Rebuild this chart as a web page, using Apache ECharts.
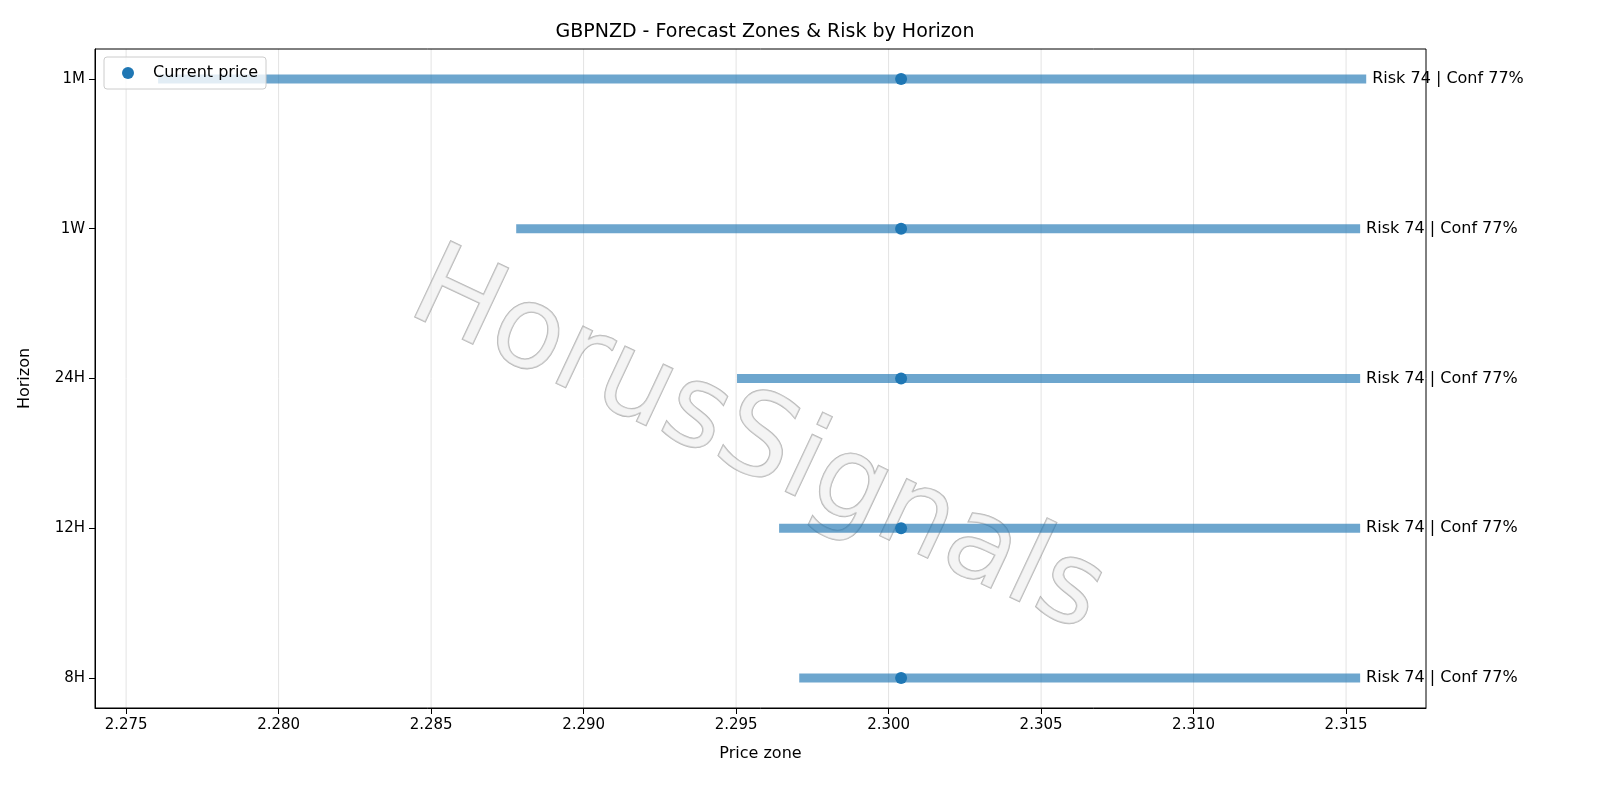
<!DOCTYPE html>
<html>
<head>
<meta charset="utf-8">
<script src="https://cdn.jsdelivr.net/npm/echarts@6/dist/echarts.min.js"></script>
<style>html,body{margin:0;padding:0;background:#fff}#main{width:1600px;height:800px}</style>
</head>
<body>
<div id="main"></div>
<script>
// horizons from bottom to top
const horizons = ['8H', '12H', '24H', '1W', '1M'];
const zoneLow = [2.29707, 2.29641, 2.29503, 2.28779, 2.27605];
const zoneHigh = [2.31546, 2.31546, 2.31546, 2.31546, 2.31566];
const currentPrice = [2.30041, 2.30041, 2.30041, 2.30041, 2.30041];
const riskLabels = ['Risk 74 | Conf 77%', 'Risk 74 | Conf 77%', 'Risk 74 | Conf 77%', 'Risk 74 | Conf 77%', 'Risk 74 | Conf 77%'];
const xTicks = [2.275, 2.28, 2.285, 2.29, 2.295, 2.3, 2.305, 2.31, 2.315];

const font = 'DejaVu Sans';
let myChart = echarts.init(document.getElementById('main'));

let zones = horizons.map((h, i) => [zoneLow[i], zoneHigh[i], i, riskLabels[i]]);

let options = {
    animation: false,
    textStyle: { fontFamily: font },
    title: {
        text: 'GBPNZD - Forecast Zones & Risk by Horizon',
        left: 760, top: 18, textAlign: 'center',
        textStyle: { fontSize: 19, fontWeight: 'normal', color: '#000', fontFamily: font }
    },
    grid: { left: 95, right: 174, top: 49, bottom: 92 },
    legend: {
        left: 104, top: 57,
        data: ['Current price'],
        itemWidth: 12, itemHeight: 12,
        padding: [8, 8, 8, 18],
        backgroundColor: 'rgba(255,255,255,0.8)',
        borderColor: '#ccc', borderWidth: 1, borderRadius: 3,
        textStyle: { fontSize: 16, color: '#000', fontFamily: font, padding: [0, 0, 0, 14] }
    },
    xAxis: {
        type: 'value', min: 2.27398, max: 2.31762,
        name: 'Price zone', nameLocation: 'middle', nameGap: 38,
        nameTextStyle: { fontSize: 16, color: '#000' },
        axisLine: { show: true, onZero: false, lineStyle: { color: '#000' } },
        axisTick: { show: true, length: 6, lineStyle: { color: '#000' }, customValues: xTicks },
        axisLabel: { fontSize: 15, color: '#000', margin: 10, customValues: xTicks, formatter: v => v.toFixed(3) },
        splitLine: { show: false }
    },
    yAxis: {
        type: 'value', min: -0.2, max: 4.2,
        name: 'Horizon', nameLocation: 'middle', nameGap: 62,
        nameTextStyle: { fontSize: 16, color: '#000' },
        axisLine: { show: true, lineStyle: { color: '#000' } },
        axisTick: { show: true, length: 6, lineStyle: { color: '#000' }, customValues: [0, 1, 2, 3, 4] },
        axisLabel: { fontSize: 15, color: '#000', margin: 10, customValues: [0, 1, 2, 3, 4], formatter: v => horizons[v] },
        splitLine: { show: false }
    },
    graphic: [
        { type: 'rect', shape: { x: 95, y: 49, width: 1331, height: 659 }, style: { fill: 'none', stroke: '#000', lineWidth: 1 }, z: 10 },
        { type: 'text', left: 392, top: 232, rotation: -0.44, z: 1, silent: true,
          style: { text: 'HorusSignals', font: '115px ' + font, fill: 'rgba(235,235,235,0.55)', stroke: 'rgba(110,110,110,0.5)', lineWidth: 1.5,
                   shadowColor: 'rgba(90,90,90,0.45)', shadowBlur: 1, shadowOffsetX: 4, shadowOffsetY: 5 } }
    ],
    series: [
        {
            // vertical grid lines
            type: 'custom', silent: true, z: 0,
            data: xTicks.map(v => [v]),
            renderItem: (params, api) => {
                const p1 = api.coord([api.value(0), -0.2]);
                const p2 = api.coord([api.value(0), 4.2]);
                return { type: 'line', shape: { x1: p1[0], y1: p1[1], x2: p2[0], y2: p2[1] }, style: { stroke: '#e3e3e3', lineWidth: 1 } };
            }
        },
        {
            type: 'custom', z: 2,
            data: zones,
            renderItem: (params, api) => {
                const a = api.coord([api.value(0), api.value(2)]);
                const b = api.coord([api.value(1), api.value(2)]);
                return {
                    type: 'group',
                    children: [
                        { type: 'line', shape: { x1: a[0], y1: a[1], x2: b[0], y2: b[1] }, style: { stroke: 'rgba(31,119,180,0.65)', lineWidth: 9 } },
                        { type: 'text', x: b[0] + 6, y: b[1], style: { text: zones[params.dataIndex][3], fill: '#000', font: '16px ' + font, verticalAlign: 'middle' } }
                    ]
                };
            }
        },
        {
            name: 'Current price', type: 'scatter', z: 3,
            symbol: 'circle', symbolSize: 12,
            itemStyle: { color: '#1f77b4', opacity: 1 },
            data: currentPrice.map((v, i) => [v, i])
        }
    ]
};
myChart.setOption(options, true);
</script>
</body>
</html>
